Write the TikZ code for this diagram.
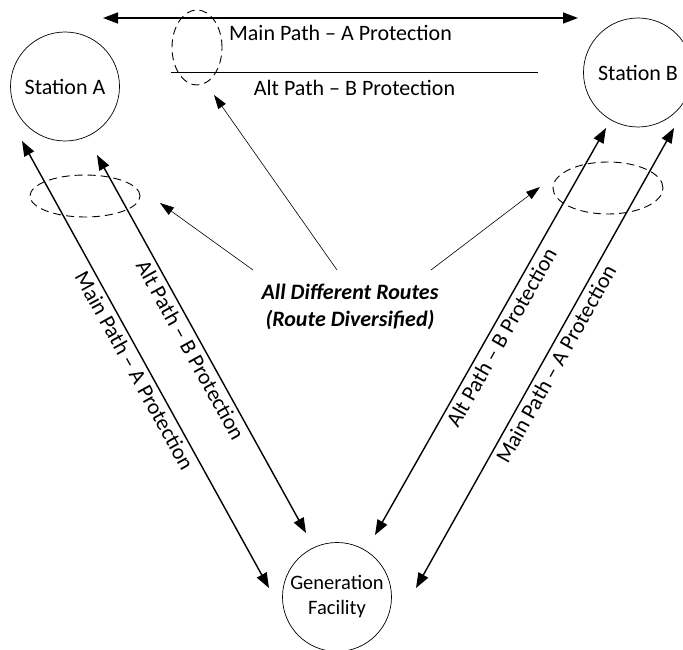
\documentclass[tikz,border=0pt]{standalone}
\usepackage{fontspec}
\setmainfont{Carlito}
\usetikzlibrary{arrows.meta, positioning, shapes.geometric}

\begin{document}
\begin{tikzpicture}[x=1pt, y=-1pt, line width=0.7pt,
    station/.style = {draw, circle, minimum size=109pt, inner sep=0pt, font=\fontsize{22}{26}\selectfont},
    oval/.style = {draw, ellipse, dash pattern=on 8pt off 5pt, line width=0.9pt, inner sep=0pt},
    route/.style = {{Triangle[length=15pt,width=11pt]}-{Triangle[length=15pt,width=11pt]}, line width=1.4pt},
    pointer/.style = {-{Triangle[length=14pt,width=9pt]}, line width=0.6pt},
    lbl/.style = {font=\fontsize{22}{26}\selectfont, inner sep=4pt}]
    \useasboundingbox (0,0) rectangle (683,650);

    \node[station] (staA) at (65,86.5) {Station A};
    \node[station] (staB) at (638,72.5) {Station B};
    \node[station, align=center, font=\fontsize{20.5}{25}\selectfont] (gen) at (337,597) {Generation\\Facility};

    \node[align=center, font=\fontsize{22}{27}\selectfont\bfseries\itshape] (routes) at (350,306.5) {All Different Routes\\(Route Diversified)};

    \node[oval, minimum width=50pt, minimum height=75pt] (ovalTop) at (197,47.5) {};
    \node[oval, minimum width=110pt, minimum height=42pt] (ovalA) at (85,196) {};
    \node[oval, minimum width=110pt, minimum height=52pt] (ovalB) at (608,188) {};

    % path ends
    \coordinate (topL) at (103,18);
    \coordinate (topR) at (578,18);
    \coordinate (altL) at (171,72.5);
    \coordinate (altR) at (538,72.5);
    \coordinate (aMain) at (22,141);
    \coordinate (aAlt) at (97,155);
    \coordinate (bAlt) at (606,128);
    \coordinate (bMain) at (674,128);
    \coordinate (gMainL) at (269,588);
    \coordinate (gAltL) at (306,533);
    \coordinate (gAltR) at (375,535);
    \coordinate (gMainR) at (416,588);

    % pointer ends
    \coordinate (fromA) at (253,270);
    \coordinate (fromTop) at (337,270);
    \coordinate (fromB) at (431,270);
    \coordinate (toA) at (160,203);
    \coordinate (toTop) at (214,95);
    \coordinate (toB) at (540,187);

    \draw[route] (topL) -- node[lbl, below, yshift=-3pt] (mainTop) {Main Path -- A Protection} (topR);
    \draw[line width=1.4pt] (altL) -- node[lbl, below, yshift=-3pt] (altTop) {Alt Path -- B Protection} (altR);

    \draw[route] (aMain) -- node[lbl, below, sloped] (mainA) {Main Path -- A Protection} (gMainL);
    \draw[route] (aAlt) -- node[lbl, below, sloped] (altA) {Alt Path -- B Protection} (gAltL);
    \draw[route] (gAltR) -- node[lbl, below, sloped] (altB) {Alt Path -- B Protection} (bAlt);
    \draw[route] (gMainR) -- node[lbl, below, sloped] (mainB) {Main Path -- A Protection} (bMain);

    \draw[pointer] (fromA) -- (toA);
    \draw[pointer] (fromTop) -- (toTop);
    \draw[pointer] (fromB) -- (toB);
\end{tikzpicture}
\end{document}
